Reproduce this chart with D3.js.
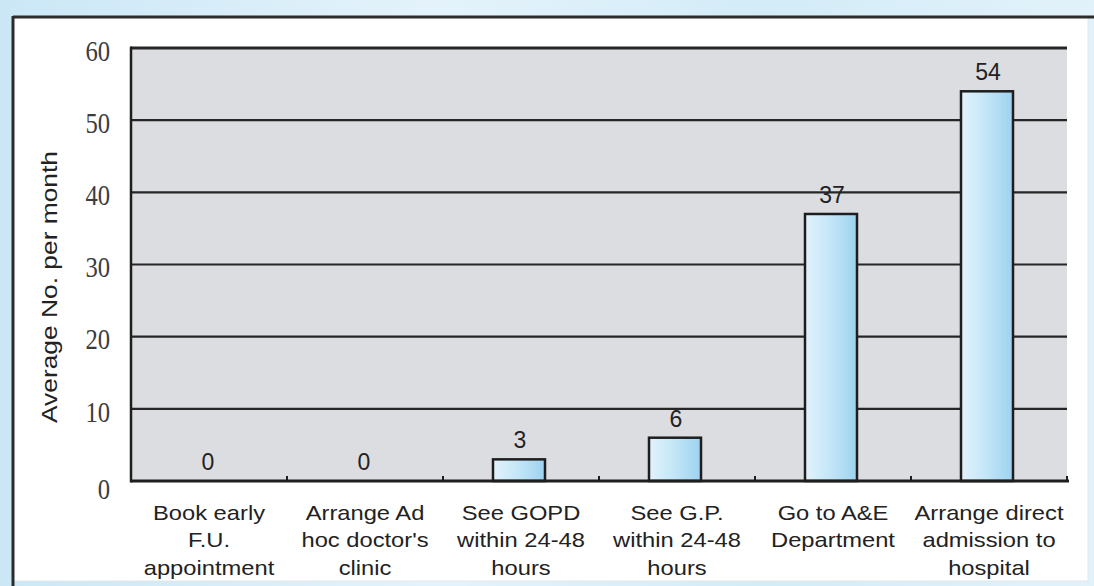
<!DOCTYPE html>
<html>
<head>
<meta charset="utf-8">
<script src="https://cdn.jsdelivr.net/npm/d3@7/dist/d3.min.js"></script>
<style>
  html, body { margin: 0; padding: 0; }
  body { width: 1094px; height: 586px; overflow: hidden; }
</style>
</head>
<body>
<svg id="chart" width="1094" height="586"></svg>
<script>
// Chart data
const categories = [
  ["Book early", "F.U.", "appointment"],
  ["Arrange Ad", "hoc doctor's", "clinic"],
  ["See GOPD", "within 24-48", "hours"],
  ["See G.P.", "within 24-48", "hours"],
  ["Go to A&E", "Department"],
  ["Arrange direct", "admission to", "hospital"]
];
const values = [0, 0, 3, 6, 37, 54];
const yTicks = [0, 10, 20, 30, 40, 50, 60];
const yTitle = "Average No. per month";

const svg = d3.select("#chart");
const W = 1094, H = 586;
const plot = { left: 131, right: 1067, top: 48, bottom: 481 };

const defs = svg.append("defs");
const bgGrad = defs.append("linearGradient").attr("id", "bgGrad")
  .attr("x1", 0).attr("y1", 0).attr("x2", 1).attr("y2", 0);
bgGrad.append("stop").attr("offset", "0%").attr("stop-color", "#cbe7f6");
bgGrad.append("stop").attr("offset", "40%").attr("stop-color", "#e4f3fb");
bgGrad.append("stop").attr("offset", "70%").attr("stop-color", "#d3ecf8");
bgGrad.append("stop").attr("offset", "100%").attr("stop-color", "#e2f2fa");

const barGrad = defs.append("linearGradient").attr("id", "barGrad")
  .attr("x1", 0).attr("y1", 0).attr("x2", 1).attr("y2", 0);
barGrad.append("stop").attr("offset", "0%").attr("stop-color", "#e2f3fc");
barGrad.append("stop").attr("offset", "45%").attr("stop-color", "#c6e7f8");
barGrad.append("stop").attr("offset", "100%").attr("stop-color", "#9dd2ef");

// Page background and framed panel
svg.append("rect").attr("width", W).attr("height", H).attr("fill", "url(#bgGrad)");
svg.append("rect").attr("x", 13).attr("y", 17).attr("width", 1075).attr("height", 564)
  .attr("fill", "#ffffff").attr("stroke", "#e2e6ea").attr("stroke-width", 1);
svg.append("line").attr("x1", 13).attr("x2", W).attr("y1", 17).attr("y2", 17)
  .attr("stroke", "#2c2c2c").attr("stroke-width", 3);
svg.append("line").attr("x1", 13).attr("x2", 13).attr("y1", 16).attr("y2", H)
  .attr("stroke", "#2c2c2c").attr("stroke-width", 3);

// Scales
const x = d3.scaleBand()
  .domain(d3.range(categories.length))
  .range([plot.left, plot.right])
  .padding(0);
const y = d3.scaleLinear().domain([0, 60]).range([plot.bottom, plot.top]);

// Plot area
svg.append("rect")
  .attr("x", plot.left).attr("y", plot.top)
  .attr("width", plot.right - plot.left).attr("height", plot.bottom - plot.top)
  .attr("fill", "#dcdde1");

// Horizontal gridlines
svg.append("g").selectAll("line")
  .data(yTicks.filter(d => d > 0))
  .join("line")
  .attr("x1", plot.left).attr("x2", plot.right)
  .attr("y1", d => y(d)).attr("y2", d => y(d))
  .attr("stroke", "#262626")
  .attr("stroke-width", d => d === 60 ? 3 : 2.2);

// Bars
const barFrac = 1 / 3;
svg.append("g").selectAll("rect")
  .data(values.map((v, i) => ({ v, i })).filter(d => d.v > 0))
  .join("rect")
  .attr("x", d => x(d.i) + x.bandwidth() * (1 - barFrac) / 2 - 2)
  .attr("width", x.bandwidth() * barFrac)
  .attr("y", d => y(d.v))
  .attr("height", d => y(0) - y(d.v))
  .attr("fill", "url(#barGrad)")
  .attr("stroke", "#1e1e1e")
  .attr("stroke-width", 2.5);

// Value labels
svg.append("g").selectAll("text")
  .data(values.map((v, i) => ({ v, i })))
  .join("text")
  .attr("x", d => x(d.i) + x.bandwidth() / 2 - 1)
  .attr("y", d => y(d.v) - 11)
  .attr("text-anchor", "middle")
  .attr("font-family", "'Liberation Sans', Arial, sans-serif")
  .attr("font-size", 23)
  .attr("fill", "#222")
  .text(d => d.v);

// Axes lines
svg.append("line")
  .attr("x1", plot.left).attr("x2", plot.left)
  .attr("y1", plot.top - 1.5).attr("y2", plot.bottom + 1.5)
  .attr("stroke", "#1e1e1e").attr("stroke-width", 2.5);
svg.append("line")
  .attr("x1", plot.left).attr("x2", plot.right + 2)
  .attr("y1", plot.bottom).attr("y2", plot.bottom)
  .attr("stroke", "#1e1e1e").attr("stroke-width", 3);

// Category boundary ticks on the x axis
const bounds = d3.range(categories.length + 1).map(i =>
  i < categories.length ? x(i) : x(categories.length - 1) + x.bandwidth());
svg.append("g").selectAll("line")
  .data(bounds.slice(1))
  .join("line")
  .attr("x1", d => d).attr("x2", d => d)
  .attr("y1", plot.bottom - 5).attr("y2", plot.bottom)
  .attr("stroke", "#1e1e1e").attr("stroke-width", 2);

// Y axis tick labels
const yAxis = d3.axisLeft(y).tickValues(yTicks).tickSize(0).tickPadding(0);
const yg = svg.append("g").attr("transform", `translate(${plot.left},0)`).call(yAxis);
yg.select(".domain").remove();
yg.selectAll("text")
  .attr("x", -24.5)
  .attr("dy", "0.42em")
  .attr("transform", "scale(0.85,1)")
  .attr("font-family", "'Liberation Serif', 'Times New Roman', serif")
  .attr("font-size", 29)
  .attr("fill", "#3c3c3c");
yg.selectAll(".tick").filter(d => d === 0).select("text").attr("dy", "0.6em");

// Y axis title
svg.append("text")
  .attr("transform", "translate(57,287) rotate(-90)")
  .attr("text-anchor", "middle")
  .attr("font-family", "'Liberation Sans', Arial, sans-serif")
  .attr("font-size", 22)
  .attr("textLength", 272)
  .attr("lengthAdjust", "spacingAndGlyphs")
  .attr("fill", "#222")
  .text(yTitle);

// Category labels
const lineYs = [520, 547, 575];
const cg = svg.append("g").selectAll("g")
  .data(categories.map((lines, i) => ({ lines, i })))
  .join("g");
cg.each(function (d) {
  const g = d3.select(this);
  d.lines.forEach((t, k) => {
    g.append("text")
      .attr("transform", `translate(${x(d.i) + x.bandwidth() / 2},${lineYs[k]}) scale(1.13,1)`)
      .attr("text-anchor", "middle")
      .attr("font-family", "'Liberation Sans', Arial, sans-serif")
      .attr("font-size", 21)
      .attr("fill", "#222")
      .text(t);
  });
});
</script>
</body>
</html>
